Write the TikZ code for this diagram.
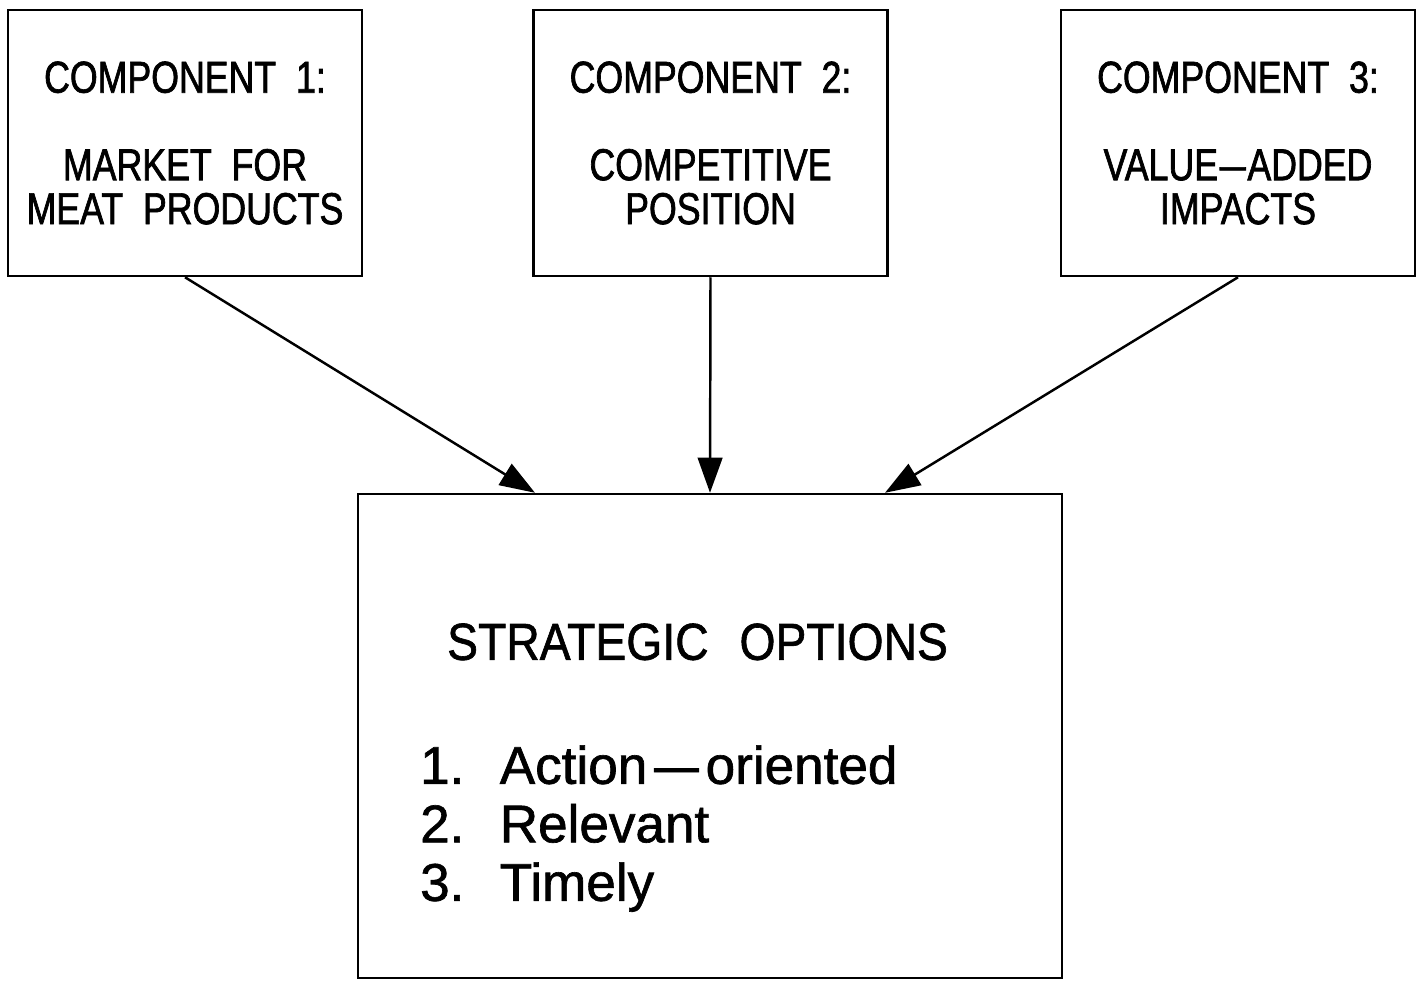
\documentclass[tikz,border=0pt]{standalone}
\usepackage{fontspec}
\setmainfont[WordSpace=2.4,FakeBold=1.2]{Liberation Sans}
\newfontfamily\capsfont[FakeStretch=0.8,WordSpace=2,FakeBold=1.5]{Liberation Sans}
\newfontfamily\headfont[FakeStretch=0.89,WordSpace=2.4,FakeBold=1.2]{Liberation Sans}
\usetikzlibrary{calc,arrows.meta}

\begin{document}
\begin{tikzpicture}[
        comp/.style={draw, line width=0.7pt, minimum width=3.54cm, minimum height=2.66cm,
            inner sep=0pt, align=center, font=\capsfont\fontsize{12.7}{12.5}\selectfont},
        feed/.style={line width=0.7pt, -{Triangle[length=10pt,width=7pt]}}
    ]
            \useasboundingbox (0,0) rectangle (14.23,-9.80);

            \node (comp1) at (1.85,-1.43) [comp] {COMPONENT 1:\\[12.4pt]MARKET FOR\\MEAT PRODUCTS};
            \node (comp2) at ($(comp1) + (5.255,0)$) [comp] {COMPONENT 2:\\[12.4pt]COMPETITIVE\\POSITION};
            \node (comp3) at ($(comp2) + (5.275,0)$) [comp] {COMPONENT 3:\\[12.4pt]VALUE\kern0.5pt\scalebox{1.3}[1]{\textendash}\kern0.5pt ADDED\\IMPACTS};

            \node (opts) at (7.10,-7.36) [draw, line width=0.7pt, minimum width=7.04cm, minimum height=4.84cm] {};

            \node (head) at ($(opts.north) + (-0.125,-1.67)$) [anchor=base, font=\headfont\fontsize{14.8}{17}\selectfont] {STRATEGIC OPTIONS};

            \foreach \n/\txt in {1/Action\kern2pt\scalebox{1.5}[1]{\textendash}\kern2pt oriented, 2/Relevant, 3/Timely}
                {
                    \node (opt\n) at ($(opts.north west) + (0.51,{-2.91-0.585*(\n-1)})$) [anchor=base west, font=\fontsize{15.1}{18}\selectfont] {\n.\ \txt};
                }

                \coordinate (inL) at ($(opts.north) + (-1.75,0)$);
                \coordinate (inR) at ($(opts.north) + (1.75,0)$);

                \draw [feed] (comp1.south) -- (inL);
                \draw [feed] (comp2.south) -- (opts.north);
                \draw [feed] (comp3.south) -- (inR);

        \end{tikzpicture}
\end{document}
